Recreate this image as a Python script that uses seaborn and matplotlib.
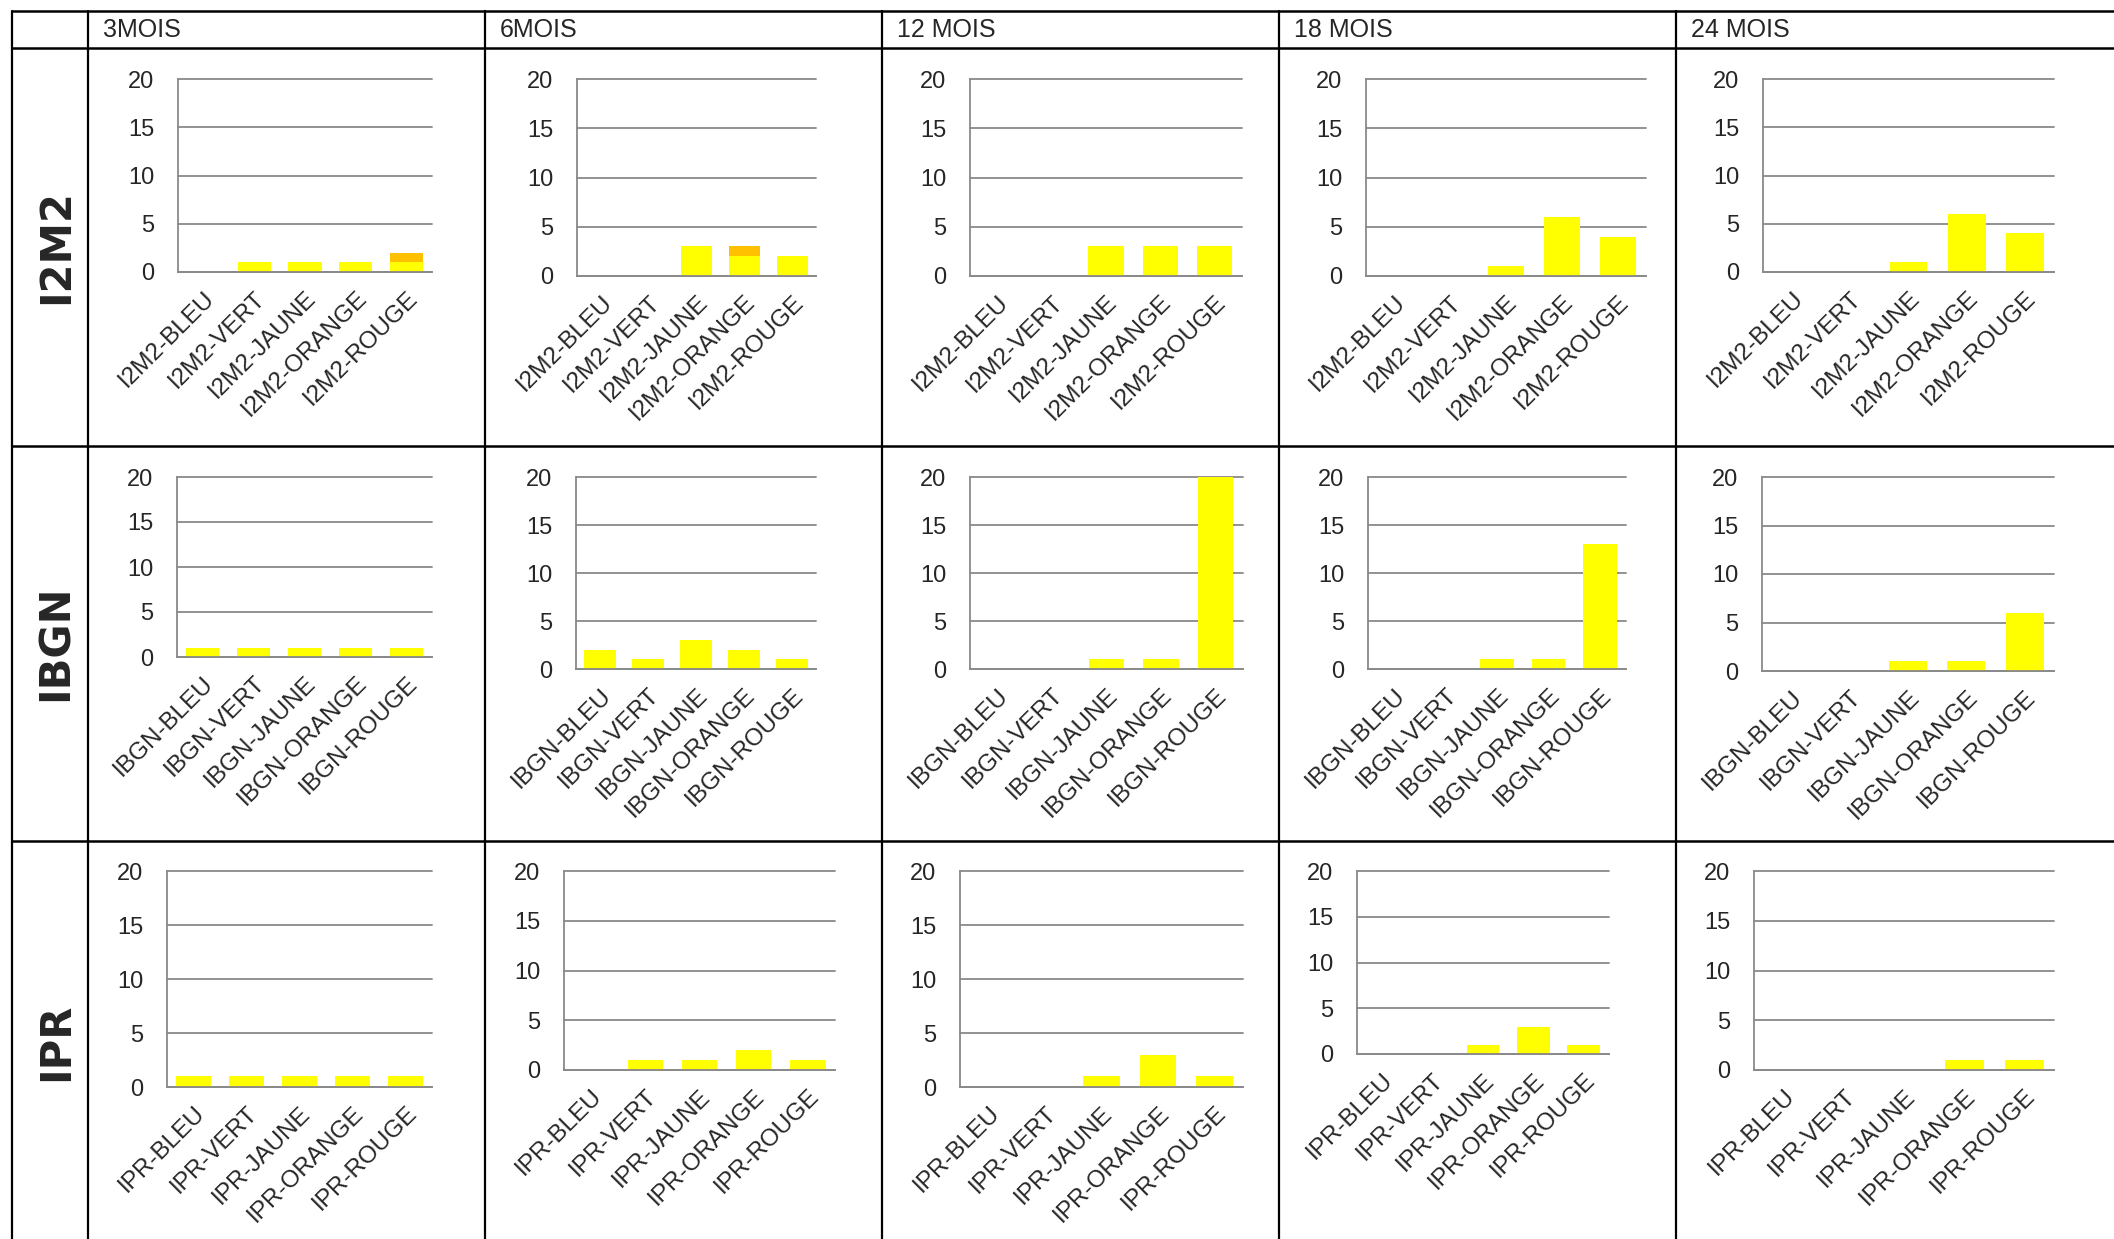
import numpy as np
import pandas as pd
import matplotlib.pyplot as plt
import seaborn as sns

sns.set_style('white')
plt.rcParams['font.family'] = ['Liberation Sans', 'DejaVu Sans']

periods = ['3MOIS', '6MOIS', '12 MOIS', '18 MOIS', '24 MOIS']
indices = ['I2M2', 'IBGN', 'IPR']
classes = ['BLEU', 'VERT', 'JAUNE', 'ORANGE', 'ROUGE']

# nombre de stations par classe, une liste par période
i2m2_jaune = [[0, 1, 1, 1, 1], [0, 0, 3, 2, 2], [0, 0, 3, 3, 3], [0, 0, 1, 6, 4], [0, 0, 1, 6, 4]]
i2m2_orange = [[0, 0, 0, 0, 1], [0, 0, 0, 1, 0], [0, 0, 0, 0, 0], [0, 0, 0, 0, 0], [0, 0, 0, 0, 0]]
ibgn_jaune = [[1, 1, 1, 1, 1], [2, 1, 3, 2, 1], [0, 0, 1, 1, 20], [0, 0, 1, 1, 13], [0, 0, 1, 1, 6]]
ibgn_orange = [[0, 0, 0, 0, 0]] * 5
ipr_jaune = [[1, 1, 1, 1, 1], [0, 1, 1, 2, 1], [0, 0, 1, 3, 1], [0, 0, 1, 3, 1], [0, 0, 0, 1, 1]]
ipr_orange = [[0, 0, 0, 0, 0]] * 5

jaune = [i2m2_jaune, ibgn_jaune, ipr_jaune]
orange = [i2m2_orange, ibgn_orange, ipr_orange]

W, H = 2114, 1239
# cadres des graphiques en pixels (gauche, droite, haut, bas)
boxes = [
    [(178, 432, 79, 272), (577, 816, 79, 276), (970, 1242, 79, 276), (1366, 1646, 79, 276), (1763, 2054, 79, 272)],
    [(177, 432, 477, 657), (576, 816, 477, 669), (970, 1243, 477, 669), (1368, 1626, 477, 669), (1762, 2054, 477, 671)],
    [(167, 432, 871, 1087), (564, 835, 871, 1070), (960, 1243, 871, 1087), (1357, 1609, 871, 1054), (1754, 2054, 871, 1070)],
]
col_x = [12, 88, 485, 882, 1279, 1676]
row_y = [11, 48, 446, 841]
row_label_y = [247, 643, 1042]

grid_col = '#898989'

fig = plt.figure(figsize=(W / 100, H / 100), dpi=100)
bg = fig.add_axes([0, 0, 1, 1])
bg.set_xlim(0, W)
bg.set_ylim(H, 0)
bg.axis('off')
for x in col_x:
    bg.plot([x, x], [row_y[0], H + 5], color='black', lw=1.6)
for y in row_y:
    bg.plot([col_x[0], W + 5], [y, y], color='black', lw=1.8)
for c, per in enumerate(periods):
    bg.text(col_x[c + 1] + 15, 30, per, fontsize=18, va='center', ha='left')
for r, idx in enumerate(indices):
    bg.text(56, row_label_y[r], idx, fontsize=30, fontweight='bold', rotation=90,
            va='center', ha='center', family='DejaVu Sans')

for r, idx in enumerate(indices):
    for c, per in enumerate(periods):
        L, R, T, B = boxes[r][c]
        ax = fig.add_axes([L / W, 1 - B / H, (R - L) / W, (B - T) / H])
        df = pd.DataFrame({'classe': [f'{idx}-{k}' for k in classes],
                           'jaune': jaune[r][c], 'orange': orange[r][c]})
        df['total'] = df['jaune'] + df['orange']
        if df['orange'].any():
            sns.barplot(data=df, x='classe', y='total', color='#FFC000', saturation=1,
                        width=0.65, linewidth=0, errorbar=None, ax=ax)
        sns.barplot(data=df, x='classe', y='jaune', color='#FFFF00', saturation=1,
                    width=0.65, linewidth=0, errorbar=None, ax=ax)
        ax.set_xlim(-0.5, 4.5)
        ax.set_ylim(0, 20)
        ax.set_yticks([0, 5, 10, 15, 20])
        ax.set_xlabel('')
        ax.set_ylabel('')
        ax.yaxis.grid(True, color=grid_col, lw=1.3)
        ax.xaxis.grid(False)
        ax.set_axisbelow(True)
        for gl in ax.get_ygridlines():
            gl.set_clip_on(False)
        for s in ['top', 'right']:
            ax.spines[s].set_visible(False)
        for s in ['left', 'bottom']:
            ax.spines[s].set_color(grid_col)
            ax.spines[s].set_linewidth(1.3)
        ax.tick_params(axis='y', length=0, pad=17, labelsize=17)
        ax.tick_params(axis='x', length=0, pad=11)
        ax.set_xticks(range(len(classes)))
        ax.set_xticklabels(df['classe'], rotation=45, ha='right', va='top',
                           rotation_mode='anchor', fontsize=17.5)
        ax.patch.set_alpha(0)

fig.savefig('out.png', dpi=100)
